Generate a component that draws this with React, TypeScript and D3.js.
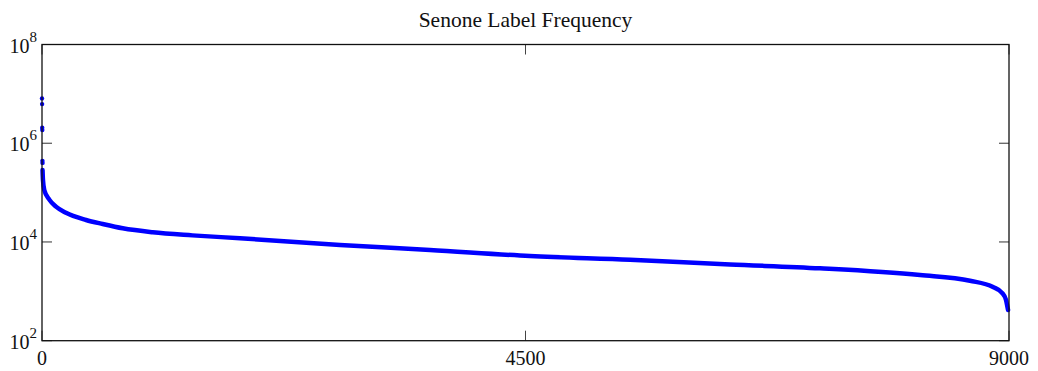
import React from "react";
import * as d3 from "d3";

// Outlier points (senone index, frequency) drawn as dots
const outlierIdx = [0, 1, 2, 3, 4, 5];
const outlierVal = [8.1e6, 6.2e6, 2.07e6, 1.86e6, 4.4e5, 4.0e5];

// Main sorted frequency curve (senone index, frequency)
const curveIdx = [5, 9, 21, 68, 130, 223, 410, 565, 751, 1030, 1400, 1843, 2774, 3611, 4542, 5473, 6404, 7241, 8172, 8637, 8851, 8935, 8972, 8984, 8991];
const curveVal = [2.87e5, 1.8e5, 1.13e5, 7.2e4, 5.2e4, 3.9e4, 2.79e4, 2.31e4, 1.89e4, 1.57e4, 1.36e4, 1.19e4, 8.7e3, 6.9e3, 5.2e3, 4.36e3, 3.5e3, 2.93e3, 2.14e3, 1.64e3, 1.22e3, 930, 670, 505, 420];

const xTicks = [0, 4500, 9000];
const yTickExp = [2, 4, 6, 8];
const title = "Senone Label Frequency";

export default function App() {
  const W = 1038, H = 371;
  const left = 42, right = 1009, top = 44.5, bottom = 340.7;
  const x = d3.scaleLinear().domain([0, 9000]).range([left, right]);
  const y = d3.scaleLog().domain([1e2, 1e8]).range([bottom, top]);
  const pts: [number, number][] = curveIdx.map((d, i) => [d, curveVal[i]]);
  const line = d3
    .line<[number, number]>()
    .x((d) => x(d[0]))
    .y((d) => y(d[1]))
    .curve(d3.curveMonotoneX);
  const font = "'Liberation Serif', 'DejaVu Serif', serif";
  const tickLen = 10;
  return (
    <svg
      width={W}
      height={H}
      style={{ position: "absolute", left: 0, top: 0, background: "#fff" }}
      fontFamily={font}
    >
      <rect x={0} y={0} width={W} height={H} fill="#fff" />
      <text x={(left + right) / 2} y={27} textAnchor="middle" fontSize={21.5} fill="#111">
        {title}
      </text>
      {/* ticks */}
      {xTicks.map((t) => (
        <g key={"xt" + t}>
          <line x1={x(t)} x2={x(t)} y1={bottom} y2={bottom - tickLen} stroke="#444" strokeWidth={1} />
          <line x1={x(t)} x2={x(t)} y1={top} y2={top + tickLen} stroke="#444" strokeWidth={1} />
          <text x={x(t)} y={365} textAnchor="middle" fontSize={20} fill="#111">
            {t}
          </text>
        </g>
      ))}
      {yTickExp.map((e) => {
        const yy = y(Math.pow(10, e));
        return (
          <g key={"yt" + e}>
            <line x1={left} x2={left + tickLen} y1={yy} y2={yy} stroke="#333" strokeWidth={1} />
            <line x1={right} x2={right - tickLen} y1={yy} y2={yy} stroke="#333" strokeWidth={1} />
            <text x={37} y={yy + 8} textAnchor="end" fontSize={20} fill="#111">
              10
              <tspan dy={-11} fontSize={15}>
                {e}
              </tspan>
            </text>
          </g>
        );
      })}
      {/* data */}
      <path d={line(pts) || ""} fill="none" stroke="#0000ff" strokeWidth={4.5} strokeLinecap="round" strokeLinejoin="round" />
      {outlierIdx.map((d, i) => (
        <circle key={"o" + i} cx={x(d)} cy={y(outlierVal[i])} r={2.2} fill="#0000ff" />
      ))}
      {/* box */}
      <rect x={left} y={top} width={right - left} height={bottom - top} fill="none" stroke="#111" strokeWidth={1.3} />
    </svg>
  );
}
